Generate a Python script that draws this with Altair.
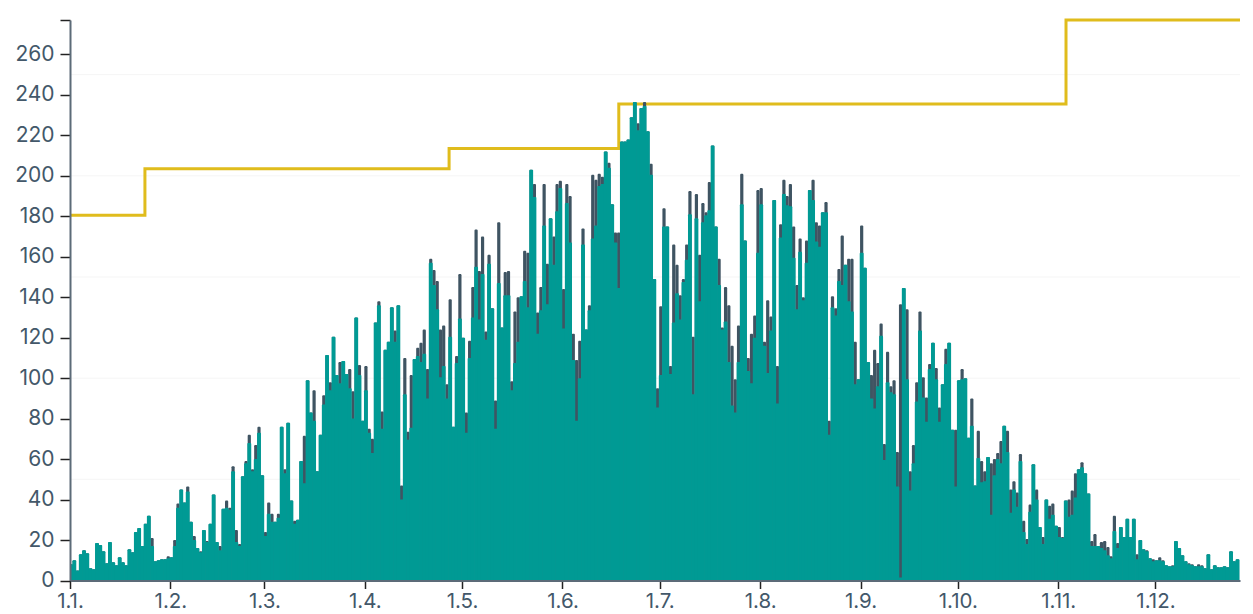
import altair as alt
import pandas as pd

teal = [
    8,10,5,13,15,13.5,6,5.5,18.5,17.5,
    14.5,8.5,19,9,7.5,11.5,9,7.5,15.5,14,
    24,26,17,28,32,17,9.5,10,10.5,10.5,
    11,11.5,17,36,45,38.5,44,29,20,16,
    14,25,19,28,42.5,19,15,35.5,36,35,
    54,19,17,51.5,58,68,54,60,73,52,
    22,33,29,29,31,76,53,78,39.5,28,
    30,59,48,99,83,79,54,72,87,111.5,
    94,120.5,101.5,97.5,108.5,102,95,80,130,101.5,
    79,94,73,63,127.5,136,75,114,118,135,
    118,136,40,92,69.5,75.5,109.5,111,108,112,
    90,157,146,134,100.5,106,90,120.5,76,107.5,
    129.5,120,73,110,130,155,129,151.5,119,156.5,
    134.5,75,147,125,141,141,94,107.5,118,140.5,
    148,135,203,189.5,122,133.5,175.5,136.5,179,156,
    182.5,194,124.5,186.5,167,109,79,100,166,124,
    133.5,169,175.5,195,196,212,204,186,167,144.5,
    217,217,218,229,236.5,222.5,233.5,234.5,222,200.5,
    149,85.5,101.5,175,175,102,127.5,142,129,147.5,
    158.5,181,92,179,138,177,180.5,183,215,175,
    146,124,128,108,86.5,83,108,186,168,103.5,
    97.5,120,162,186,116,102.5,123.5,188,87.5,169.5,
    191,185.5,185,159.5,134,162.5,138.5,157,193,188,
    167.5,165,182,182,72,135,131,148,146,156,
    138,133,97,99.5,162,154.5,108,90,85,96,
    121,59.5,98,93,92,46.5,1.5,144.5,99.5,44.5,
    58,88.5,123.5,90.5,78.5,104.5,117.5,99.5,78.5,97,
    107,117.5,74.5,46.5,99,99.5,100,70.5,76.5,47,
    60.5,48.5,49,61,32.5,52,60,58,76.5,63.5,
    33.5,45,36.5,59,24,18,34,57.5,40,26.5,
    18,40,30.5,32.5,27,21.5,21,39.5,31.5,32.5,
    41,55,56,53,43,17,17,17,16,15,
    12.5,11,24.5,16,26.5,21.5,30.5,21.5,30.5,10.5,
    20,15.5,14.5,11,9.5,10,10,9.5,7.5,7,
    7,19.5,16,12.5,9.5,8,7.5,7,7,7,
    6,13,5.5,7.5,6.5,6.5,7,6.5,14.5,9.5,10.5,
]

dark = [
    8,10,5,13,15,13.5,6,5.5,18.5,17.5,
    14.5,8.5,19,9,7.5,11.5,9,7.5,15.5,14,
    24,26,17,28,32,21,9.5,10,10.5,10.5,
    12,11.5,20,38,45,38.5,46.5,29,22,16,
    14.5,25,19.5,28,42.5,19,17,35.5,39.5,36,
    56.5,25,18,51.5,59,72,55,67,76,52,
    24,38.5,33,29,33,76,55,78,39.5,29.5,
    30,59,71.5,99,83,94,54,72,91.5,111.5,
    98,120.5,101.5,108,108.5,102,104.5,93.5,130,106.5,
    79,106,75,70,127.5,138,83.5,114,118,135,
    123.5,136,47,110,73.5,101.5,109.5,115,117.5,124,
    104.5,159,153.5,148,124,126,97,139,76,111,
    151.5,120,83,118.5,145,173.5,153,170,123,161,
    134.5,89,177,125,152.5,153,98.5,133,140,140.5,
    163,162,203,196,132.5,145,196,156.5,179,170,
    196,197.5,144,196,190,122,109,118.5,174,124,
    136,200.5,198,201,199.5,212,206.5,186,172,172,
    217,217,218,229,236.5,226,233.5,236.5,222,206,
    149,95,135.5,184,175,106,166,156,141,149,
    166,192.5,120.5,191,161,186.5,182,197,215,175,
    159,125,145,136,116,99.5,126,201,168,110,
    122,131,193,194,118,138.5,130.5,188,106,176,
    198,190,196,175,146,169,140,168,193,198,
    177,175.5,182,187,79,140.5,134.5,154,170.5,156,
    159,159,118,99.5,175.5,154.5,108,101.5,114,107.5,
    127,67.5,113,96,99,63.5,136.5,144.5,134,54,
    67,98,133,100.5,90.5,107,117.5,105,85.5,97,
    114.5,117.5,74.5,74.5,99,104.5,100,70.5,90,47,
    74,59,54,61,58,60,63,69,76.5,74,
    45,49,43.5,62.5,29.5,20.5,37.5,57.5,45,26.5,
    21.5,40,37,38,27,26.5,21.5,39.5,40,44.5,
    53,55,58.5,53,43,19.5,23,17,19,19.5,
    16.5,12,32,18.5,26.5,21.5,30.5,21.5,30.5,13,
    20,15.5,15,11,10.5,10,11.5,10,7.5,7,
    7.5,19.5,16,12.5,9.5,8.5,8,7,8,7.5,
    6,13,5.5,7.5,6.5,6.5,7,6.5,14.5,9.5,10.5,
]

gold_dates = ["2020-01-01T00:00:00", "2020-01-24T03:00:00", "2020-04-27T00:00:00",
              "2020-06-18T09:00:00", "2020-11-03T09:36:00", "2020-12-27T02:24:00"]
gold_vals = [180.5, 203.5, 213.5, 235.5, 277, 277]
grid_vals = [50, 100, 150, 200, 250]
y_ticks = [0, 20, 40, 60, 80, 100, 120, 140, 160, 180, 200, 220, 240, 260, 277]
X_DOMAIN = ["2020-01-01T00:00:00", "2020-12-27T02:24:00"]

df = pd.DataFrame({
    "date": pd.date_range("2020-01-01 08:00", periods=len(teal), freq="D"),
    "teal": teal,
    "dark": dark,
})
gold_df = pd.DataFrame({"date": pd.to_datetime(gold_dates), "v": gold_vals})
grid_df = pd.DataFrame({"v": grid_vals})

FONT = "Inter"
SLATE = "#43586a"
x_scale = alt.Scale(domain=X_DOMAIN, nice=False, padding=0)
x_axis = alt.Axis(format="%-d.%-m.", tickCount=alt.TimeIntervalStep(interval="month", step=1),
                  grid=False, labelFontSize=20.5, labelColor=SLATE, labelFont=FONT,
                  labelPadding=3, tickSize=8, tickColor="#222222", tickWidth=1.5,
                  domainColor="#5c6b78", domainWidth=2, labelOverlap=False,
                  labelFlush=False, zindex=1, title=None)
y_scale = alt.Scale(domain=[0, 277], nice=False)
y_axis = alt.Axis(values=y_ticks, title=None, grid=False,
                  labelExpr="datum.value == 277 ? '' : datum.label",
                  labelFontSize=21, labelColor=SLATE, labelFont=FONT, labelPadding=6,
                  tickSize=10, tickColor="#222222", tickWidth=1.5,
                  domainColor="#5c6b78", domainWidth=2, zindex=1)

grid = alt.Chart(grid_df).mark_rule(color="#f5f5f5", strokeWidth=1).encode(
    y=alt.Y("v:Q", scale=y_scale, axis=y_axis))
gold = alt.Chart(gold_df).mark_line(color="#e0bc1c", strokeWidth=3, interpolate="step-after").encode(
    x=alt.X("date:T", scale=x_scale, axis=x_axis), y=alt.Y("v:Q", scale=y_scale))
dark_bars = alt.Chart(df).mark_bar(color="#3f5462", width=3.2, clip=True, cornerRadiusTopLeft=1.2,
                                   cornerRadiusTopRight=1.2).encode(
    x=alt.X("date:T", scale=x_scale), y=alt.Y("dark:Q", scale=y_scale, stack=None))
teal_bars = alt.Chart(df).mark_bar(color="#009a94", width=3.9, clip=True, cornerRadiusTopLeft=1,
                                   cornerRadiusTopRight=1).encode(
    x=alt.X("date:T", scale=x_scale), y=alt.Y("teal:Q", scale=y_scale, stack=None))

chart = (grid + gold + dark_bars + teal_bars).properties(
    width=1170, height=560.5,
    padding={"left": 62, "top": 12, "right": 5, "bottom": 34},
    autosize=alt.AutoSizeParams(type="none"),
).configure_view(stroke=None)

chart.save("out.html", embed_options={"renderer": "svg", "actions": False})
